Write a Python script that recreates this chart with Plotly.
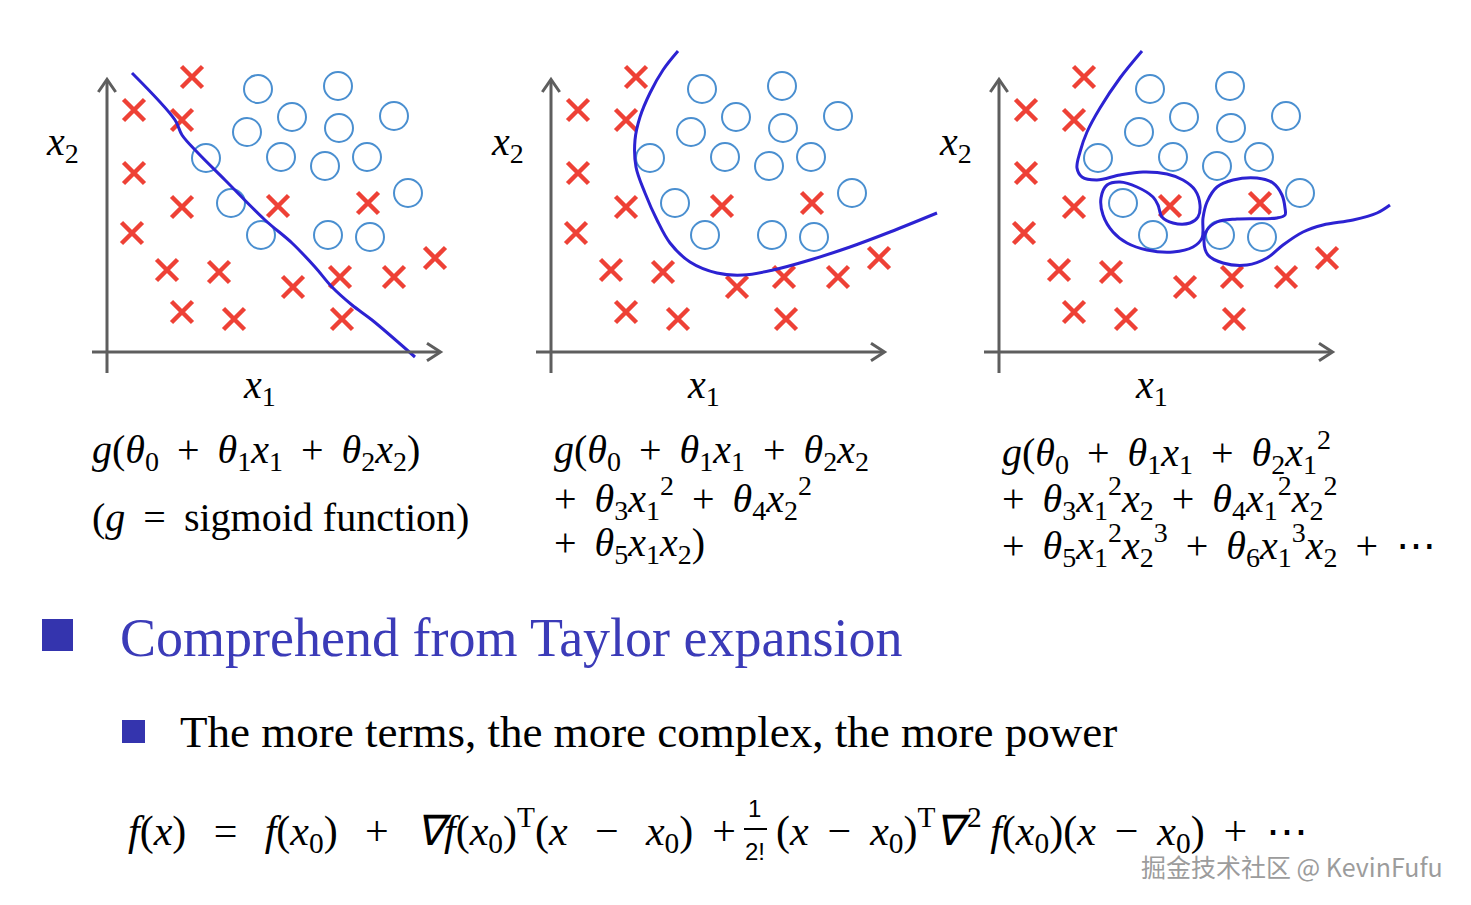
import plotly.graph_objects as go

# ---------------- data (panel-local units, origin at axis corner) ----------------
cross_x = [8.5, 2.7, 7.5, 2.7, 7.5, 17.1, 26.1, 2.5, 6.0, 11.2, 18.6, 23.3, 28.7, 32.8, 7.5, 12.7, 23.5]
cross_y = [27.5, 24.2, 23.2, 17.9, 14.5, 14.6, 14.9, 11.9, 8.2, 8.0, 6.5, 7.5, 7.5, 9.4, 4.0, 3.3, 3.3]

circle_x = [15.1, 23.1, 18.5, 23.2, 28.7, 14.0, 9.9, 17.4, 21.8, 26.0, 30.1, 12.4, 15.4, 22.1, 26.3]
circle_y = [26.3, 26.6, 23.5, 22.4, 23.6, 22.0, 19.4, 19.5, 18.6, 19.5, 15.9, 14.9, 11.7, 11.7, 11.5]

# decision boundaries
b1_x = [2.5, 6.8, 7.5, 9.1, 11.8, 15.8, 18.5, 20.8, 22.5, 24.5, 26.5, 30.8]
b1_y = [27.9, 23.2, 21.7, 19.9, 17.2, 13.2, 10.9, 8.5, 6.5, 4.7, 3.2, -0.5]

b2_x = [12.7, 11.2, 9.9, 8.9, 8.4, 8.5, 9.4, 10.6, 11.9, 13.9, 16.6, 19.2, 22.2, 25.9, 29.9, 33.9, 38.6]
b2_y = [30.1, 28.2, 25.9, 23.5, 21.2, 18.5, 15.9, 13.2, 10.9, 9.0, 7.9, 7.7, 8.2, 9.2, 10.5, 12.0, 13.9]

b3_x = [14.3, 12.1, 10.1, 8.8, 8.1, 7.8, 8.3, 9.8, 12.1, 14.4, 16.8, 18.4, 19.6, 20.1, 19.9, 19.1,
        17.4, 16.3, 15.9, 15.4, 13.8, 12.1, 10.8, 10.2, 10.4, 11.4, 12.8, 14.8, 17.4, 19.4, 20.3,
        20.4, 20.8, 21.8, 23.4, 25.8, 27.4, 28.3, 28.6, 28.6, 27.8, 23.8, 21.8, 20.8, 20.5, 20.9,
        22.4, 24.8, 26.8, 28.4, 30.4, 32.4, 35.4, 37.8, 39.1]
b3_y = [30.1, 27.4, 24.4, 22.0, 20.0, 18.4, 17.5, 17.2, 17.7, 18.0, 17.8, 17.2, 16.2, 14.7, 13.5, 12.9,
        12.9, 13.5, 14.7, 15.5, 16.5, 17.0, 16.7, 15.4, 13.7, 12.0, 10.9, 10.2, 10.0, 10.5, 11.4,
        13.4, 15.0, 16.5, 17.2, 17.4, 16.9, 15.7, 14.4, 13.7, 13.4, 13.3, 13.0, 12.2, 11.0, 9.7,
        8.9, 8.7, 9.4, 10.7, 12.0, 12.7, 13.2, 13.9, 14.7]

boundaries = [(b1_x, b1_y), (b2_x, b2_y), (b3_x, b3_y)]

# ---------------- texts ----------------
S = " \u2009"      # operator spacing (math style)
PLUS = S + "+" + S
MINUS = S + "−" + S
EQ = S + "=" + S
SL = " \u2009\u2009"   # wider spacing for first half of Taylor formula

def th(n):
    return "<i>θ</i><sub>%s</sub>" % n

def xv(n, p=None):
    s = "<i>x</i><sub>%s</sub>" % n
    if p:
        s += "<sup>%s</sup>" % p
    return s

formula_lines = [
    ["<i>g</i>(" + th(0) + PLUS + th(1) + xv(1) + PLUS + th(2) + xv(2) + ")"],
    ["<i>g</i>(" + th(0) + PLUS + th(1) + xv(1) + PLUS + th(2) + xv(2),
     "+" + S + th(3) + xv(1, 2) + PLUS + th(4) + xv(2, 2),
     "+" + S + th(5) + xv(1) + xv(2) + ")"],
    ["<i>g</i>(" + th(0) + PLUS + th(1) + xv(1) + PLUS + th(2) + xv(1, 2),
     "+" + S + th(3) + xv(1, 2) + xv(2) + PLUS + th(4) + xv(1, 2) + xv(2, 2),
     "+" + S + th(5) + xv(1, 2) + xv(2, 3) + PLUS + th(6) + xv(1, 3) + xv(2) + PLUS + "⋯"],
]
sigmoid_text = "(<i>g</i>" + EQ + "sigmoid function)"
heading_text = "Comprehend from Taylor expansion"
sub_text = "The more terms, the more complex, the more power"
X0 = xv(0)
taylor_left = ("<i>f</i>(<i>x</i>)" + SL + "=" + SL + "<i>f</i>(" + X0 + ")" + SL + "+" + SL
               + "<i>∇f</i>(" + X0 + ")<sup>T</sup>"
               "(<i>x</i>" + SL + "−" + SL + X0 + ")" + S + "+")
taylor_right = ("(<i>x</i>" + MINUS + X0 + ")<sup>T</sup><i>∇</i>\u200a<sup>2</sup>\u2009<i>f</i>(" + X0 + ")"
                "(<i>x</i>" + MINUS + X0 + ")" + PLUS + "⋯")
frac_num = "1"
frac_den = "2!"
watermark = "掘金技术社区 @ KevinFufu"

# ---------------- layout helpers ----------------
OFF = 8                      # page body margin
W, H = 1471 - 2 * OFF, 905 - 2 * OFF
def fx(p):
    return (p - OFF) / W
def fy(p):
    return 1 - (p - OFF) / H

origins = [107, 551, 999]
XR = [-3, 41]
YR = [-3, 31]
MATH = "Liberation Serif"
RED = "#ee4136"
LBLUE = "#4a8fd0"
DBLUE = "#2c22d2"
GRAY = "#5e5e5e"

fig = go.Figure()
shapes = []
annotations = []

def note(x, y, text, size, family=MATH, color="black", xanchor="left"):
    annotations.append(dict(x=fx(x), y=fy(y), xref="paper", yref="paper", text=text,
                            showarrow=False, xanchor=xanchor, yanchor="middle", align="left",
                            font=dict(family=family, size=size, color=color)))

for i, ox in enumerate(origins):
    sfx = "" if i == 0 else str(i + 1)
    xa, ya = "x" + sfx, "y" + sfx
    fig.add_trace(go.Scatter(x=cross_x, y=cross_y, mode="markers", xaxis=xa, yaxis=ya,
                             marker=dict(symbol="x-thin", size=21, color=RED,
                                         line=dict(width=4.5, color=RED)),
                             showlegend=False, hoverinfo="skip"))
    fig.add_trace(go.Scatter(x=circle_x, y=circle_y, mode="markers", xaxis=xa, yaxis=ya,
                             marker=dict(symbol="circle-open", size=28, color=LBLUE,
                                         line=dict(width=2, color=LBLUE)),
                             showlegend=False, hoverinfo="skip"))
    bx, by = boundaries[i]
    fig.add_trace(go.Scatter(x=bx, y=by, mode="lines", xaxis=xa, yaxis=ya,
                             line=dict(color=DBLUE, width=3, shape="spline", smoothing=1.0),
                             showlegend=False, hoverinfo="skip"))
    fig.layout["xaxis" + sfx] = dict(domain=[fx(ox - 30), fx(ox + 410)], range=XR,
                                     visible=False, fixedrange=True, anchor=ya)
    fig.layout["yaxis" + sfx] = dict(domain=[fy(382), fy(42)], range=YR,
                                     visible=False, fixedrange=True, anchor=xa)
    # axes with arrows
    shapes.append(dict(type="line", xref=xa, yref=ya, x0=0, y0=-2.1, x1=0, y1=27.2,
                       line=dict(color=GRAY, width=3)))
    shapes.append(dict(type="line", xref=xa, yref=ya, x0=-1.5, y0=0, x1=33.3, y1=0,
                       line=dict(color=GRAY, width=3)))
    shapes.append(dict(type="path", xref=xa, yref=ya,
                       path="M -0.87,26.0 L 0,27.25 L 0.87,26.0",
                       line=dict(color=GRAY, width=3)))
    shapes.append(dict(type="path", xref=xa, yref=ya,
                       path="M 32.0,0.87 L 33.35,0 L 32.0,-0.87",
                       line=dict(color=GRAY, width=3)))
    # axis labels
    note(ox - 44, 144, xv(2), 40, xanchor="center")
    note(ox + 152, 387, xv(1), 40, xanchor="center")

# formulas under panels
line_y = [452, 498, 545]
note(90, line_y[0], formula_lines[0][0], 40)
note(90, 517, sigmoid_text, 40)
for i, ox in enumerate([552, 1000]):
    for j, txt in enumerate(formula_lines[i + 1]):
        note(ox, line_y[j], txt, 40)

# bullets and texts
shapes.append(dict(type="rect", xref="paper", yref="paper", x0=fx(42), x1=fx(73),
                   y0=fy(651), y1=fy(619), fillcolor="#3434ae", line=dict(width=0)))
shapes.append(dict(type="rect", xref="paper", yref="paper", x0=fx(122), x1=fx(145),
                   y0=fy(743), y1=fy(720), fillcolor="#3434ae", line=dict(width=0)))
note(118, 638, heading_text, 54, family="Liberation Serif", color="#3b3bb8")
note(178, 732, sub_text, 45, family="Liberation Serif")

# Taylor formula
note(126, 830, taylor_left, 42)
note(755, 808, frac_num, 24, family="Liberation Sans", xanchor="center")
note(755, 851, frac_den, 24, family="Liberation Sans", xanchor="center")
shapes.append(dict(type="line", xref="paper", yref="paper", x0=fx(744), x1=fx(767),
                   y0=fy(829), y1=fy(829), line=dict(color="black", width=2)))
note(774, 830, taylor_right, 42)

# watermark
note(1445, 866, watermark, 25, family="Noto Sans CJK SC", color="#9c9c9c", xanchor="right")

fig.update_layout(width=W, height=H, margin=dict(l=0, r=0, t=0, b=0),
                  paper_bgcolor="white", plot_bgcolor="white",
                  shapes=shapes, annotations=annotations, showlegend=False)

fig.write_html("out.html", config={"displayModeBar": False})
